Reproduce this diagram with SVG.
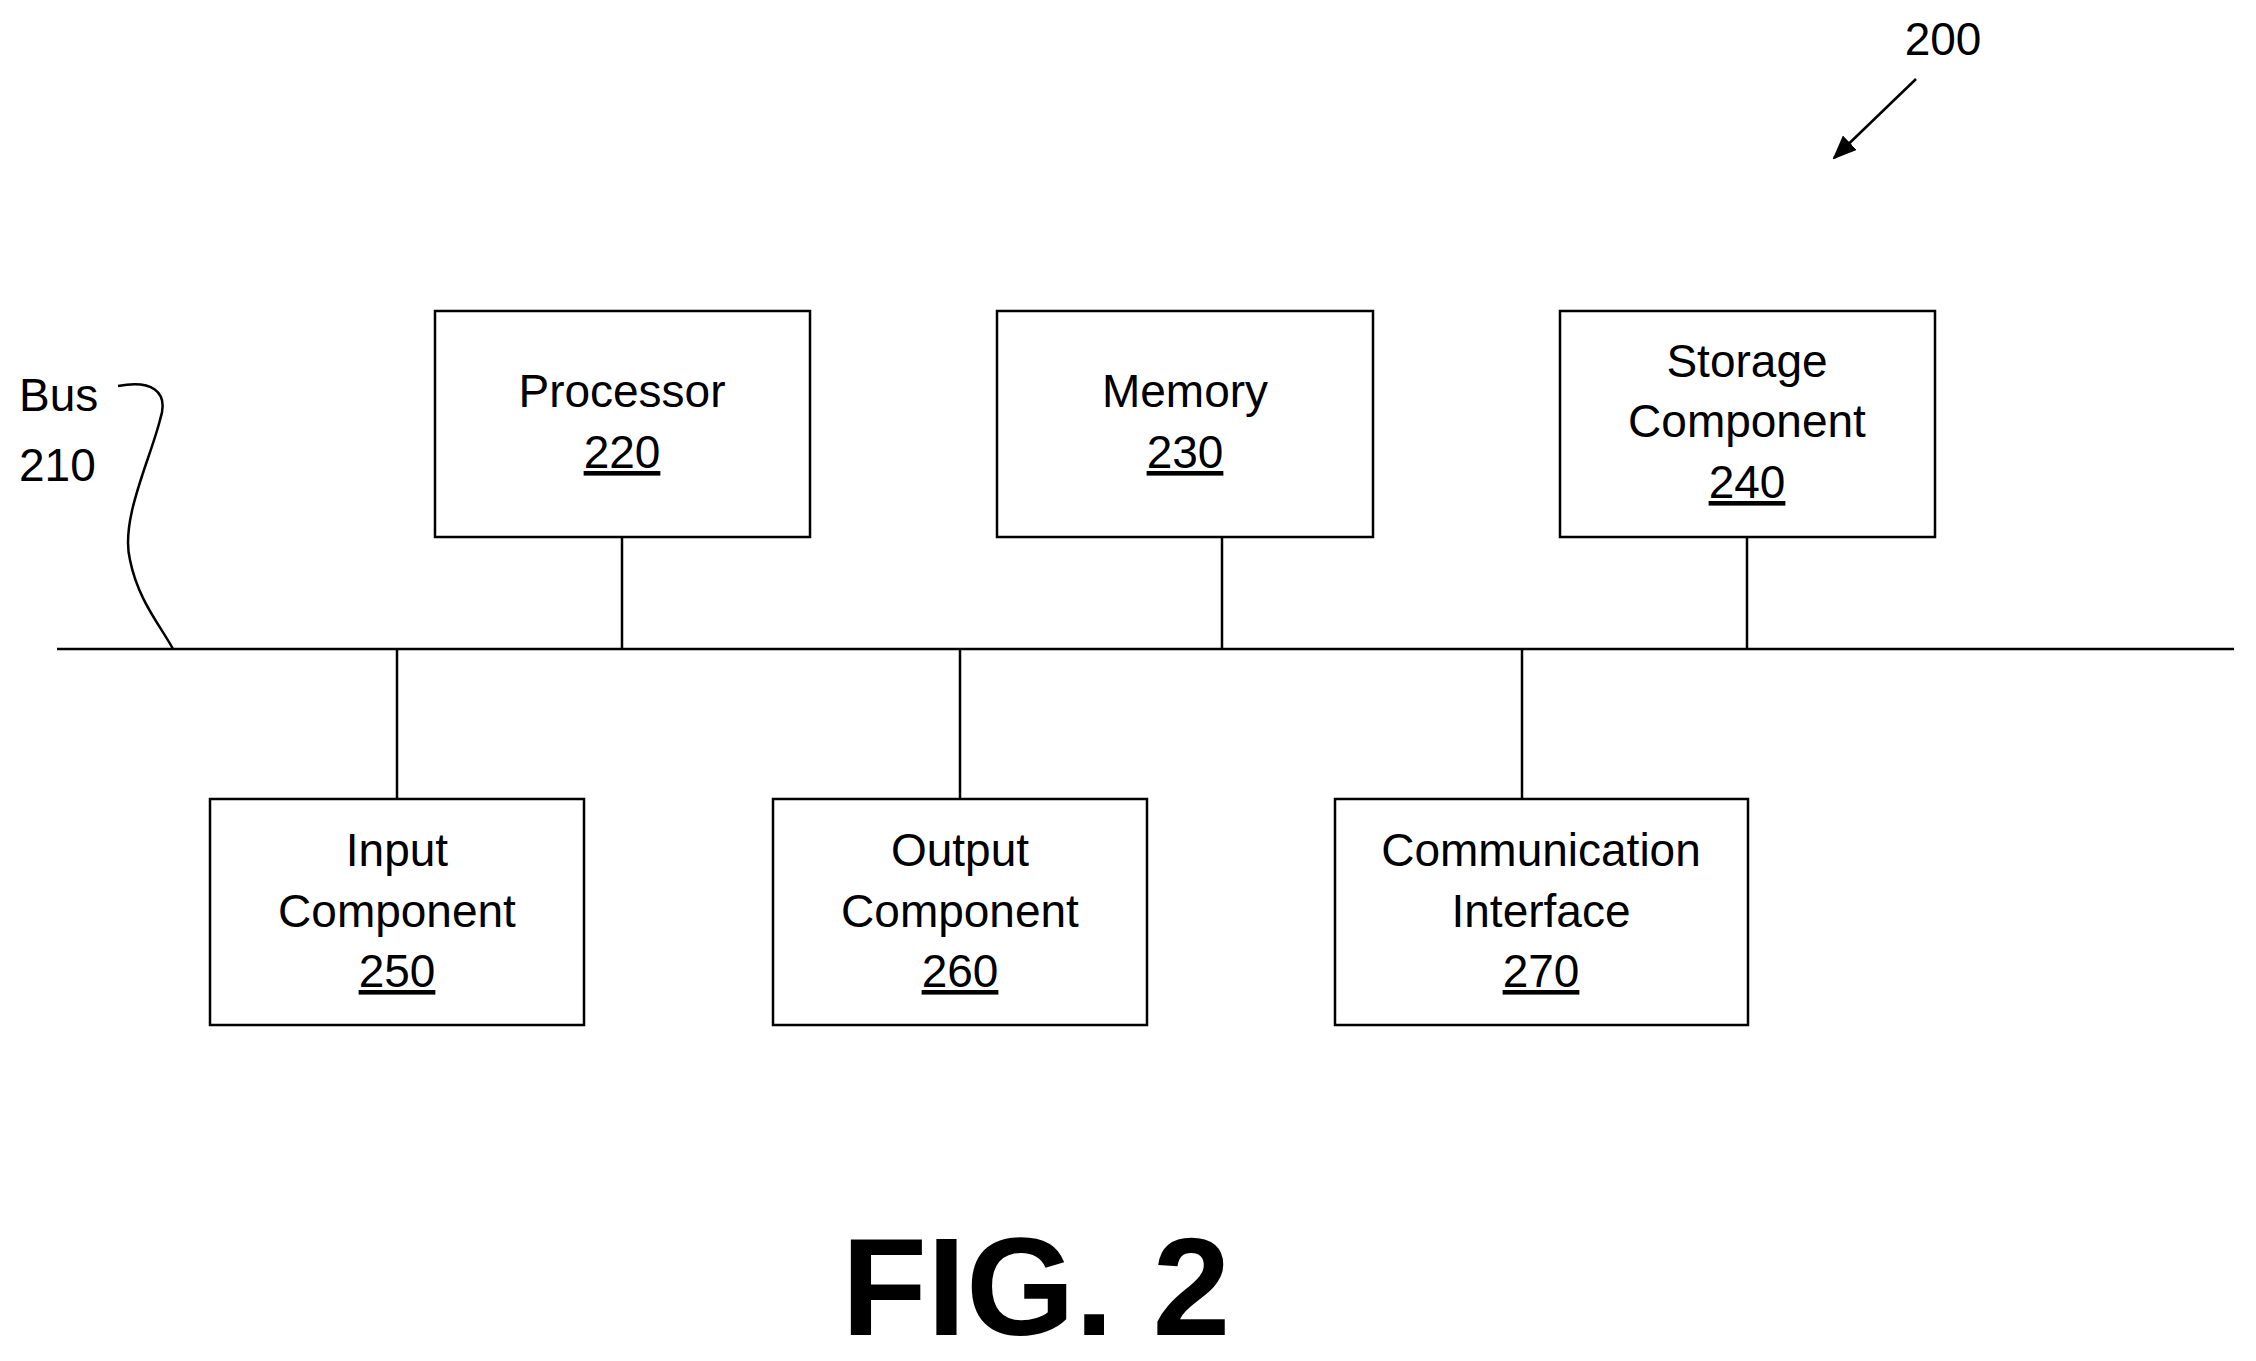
<svg xmlns="http://www.w3.org/2000/svg" width="2256" height="1361" viewBox="0 0 2256 1361">
<style>
rect{fill:#fff;stroke:#000;stroke-width:2.5}
text{font-family:"Liberation Sans",Arial,sans-serif;font-size:46px;fill:#000}
.c{text-anchor:middle}
.u{text-decoration:underline}
line,path{stroke:#000;stroke-width:2.5;fill:none}
</style>
<defs><marker id="ah" markerWidth="10" markerHeight="10" refX="9" refY="5" orient="auto" markerUnits="userSpaceOnUse" viewBox="0 0 10 10"><path d="M0,0 L10,5 L0,10 z" style="fill:#000;stroke:none" transform="scale(1)"/></marker>
<marker id="ah2" markerWidth="24" markerHeight="20" refX="22" refY="10" orient="auto" markerUnits="userSpaceOnUse"><path d="M0,0 L24,10 L0,20 z" style="fill:#000;stroke:none"/></marker></defs>
<rect x="0" y="0" width="2256" height="1361" style="stroke:none"/>
<g id="connectors">
<line x1="57" y1="649" x2="2234" y2="649"/>
<line x1="622" y1="537" x2="622" y2="649"/>
<line x1="1222" y1="537" x2="1222" y2="649"/>
<line x1="1747" y1="537" x2="1747" y2="649"/>
<line x1="397" y1="649" x2="397" y2="798"/>
<line x1="960" y1="649" x2="960" y2="798"/>
<line x1="1522" y1="649" x2="1522" y2="798"/>
<path d="M118,386 C150,380 170,390 160,420 C150,460 120,520 130,560 C138,600 160,625 173,649"/>
<line x1="1916" y1="79" x2="1834" y2="158" marker-end="url(#ah2)"/>
</g>
<g id="bus"><text x="19" y="411">Bus</text><text x="19" y="481">210</text></g>
<g id="n200"><text class="c" x="1943" y="55">200</text></g>
<g id="processor"><rect x="435" y="311" width="375" height="226"/><text class="c" x="622" y="407">Processor</text><text class="c u" x="622" y="468">220</text></g>
<g id="memory"><rect x="997" y="311" width="376" height="226"/><text class="c" x="1185" y="407">Memory</text><text class="c u" x="1185" y="468">230</text></g>
<g id="storage"><rect x="1560" y="311" width="375" height="226"/><text class="c" x="1747" y="377">Storage</text><text class="c" x="1747" y="437">Component</text><text class="c u" x="1747" y="498">240</text></g>
<g id="input"><rect x="210" y="799" width="374" height="226"/><text class="c" x="397" y="866">Input</text><text class="c" x="397" y="927">Component</text><text class="c u" x="397" y="987">250</text></g>
<g id="output"><rect x="773" y="799" width="374" height="226"/><text class="c" x="960" y="866">Output</text><text class="c" x="960" y="927">Component</text><text class="c u" x="960" y="987">260</text></g>
<g id="comm"><rect x="1335" y="799" width="413" height="226"/><text class="c" x="1541" y="866">Communication</text><text class="c" x="1541" y="927">Interface</text><text class="c u" x="1541" y="987">270</text></g>
<g id="fig"><text class="c" x="1036" y="1335" style="font-size:140px;font-weight:bold">FIG. 2</text></g>
</svg>
